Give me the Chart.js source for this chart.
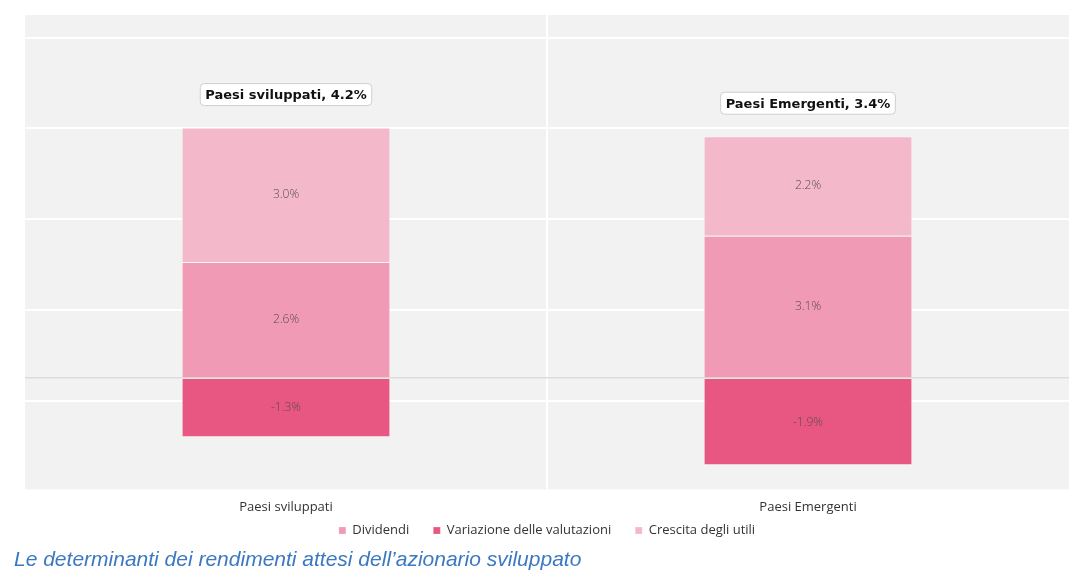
<!DOCTYPE html>
<html>
<head>
<meta charset="utf-8">
<script src="https://cdn.jsdelivr.net/npm/chart.js@4"></script>
<style>
  html, body { margin: 0; padding: 0; background: #ffffff; }
  #wrap { position: relative; width: 1081px; height: 581px; }
  #chartBox { position: absolute; left: 0; top: 0; width: 1081px; height: 581px; }
  #caption { position: absolute; z-index: 2; left: 14px; top: 547px; font-family: "Liberation Sans", Arial, sans-serif; font-style: italic; font-size: 21px; color: #3b78c2; white-space: nowrap; }
</style>
</head>
<body>
<div id="wrap">
  <div id="chartBox"><canvas id="c"></canvas></div>
  <div id="caption">Le determinanti dei rendimenti attesi dell’azionario sviluppato</div>
</div>
<script>
const categories = ['Paesi sviluppati', 'Paesi Emergenti'];
const seriesNames = ['Dividendi', 'Variazione delle valutazioni', 'Crescita degli utili'];
const dividendi = [2.56, 3.14];
const variazione = [-1.30, -1.92];
const crescita = [2.96, 2.19];
const gridTicks = [-0.5, 0, 1.5, 3.5, 5.5, 7.5];
const yMin = -2.45;
const yMax = 8;

const colors = ['#f09ab6', '#e85782', '#f3b9cb'];
const uiFont = '"Open Sans", Lato, sans-serif';

const bgPlugin = {
  id: 'plotBg',
  beforeDraw(chart) {
    const {ctx, chartArea: a} = chart;
    ctx.save();
    ctx.fillStyle = '#f2f2f2';
    ctx.fillRect(a.left, a.top, a.right - a.left, a.bottom - a.top);
    ctx.restore();
  }
};

const legendShift = {
  id: 'legendShift',
  afterLayout(chart) {
    const lg = chart.legend;
    if (lg) { lg.top -= 25; lg.bottom -= 25; }
  }
};

const labelPlugin = {
  id: 'barLabels',
  afterDatasetsDraw(chart) {
    const {ctx} = chart;
    ctx.save();
    ctx.font = '300 12px ' + uiFont;
    ctx.fillStyle = '#5a4a50';
    ctx.textAlign = 'center';
    ctx.textBaseline = 'middle';
    chart.data.datasets.forEach((ds, di) => {
      const meta = chart.getDatasetMeta(di);
      meta.data.forEach((bar, i) => {
        const yc = (bar.y + bar.base) / 2;
        ctx.fillText(ds.data[i].toFixed(1) + '%', bar.x, yc);
      });
    });
    ctx.font = 'bold 13px "DejaVu Sans", sans-serif';
    categories.forEach((cat, i) => {
      let total = 0, topY = Infinity, x = 0;
      chart.data.datasets.forEach((ds, di) => {
        total += ds.data[i];
        const bar = chart.getDatasetMeta(di).data[i];
        topY = Math.min(topY, bar.y, bar.base);
        x = bar.x;
      });
      const text = cat + ', ' + total.toFixed(1) + '%';
      const w = ctx.measureText(text).width + 10;
      const h = 22;
      const bx = x - w / 2, by = topY - 22 - h;
      ctx.beginPath();
      ctx.roundRect(bx, by, w, h, 4);
      ctx.fillStyle = '#ffffff';
      ctx.fill();
      ctx.strokeStyle = '#cfcfcf';
      ctx.lineWidth = 1;
      ctx.stroke();
      ctx.fillStyle = '#111111';
      ctx.fillText(text, x, by + h / 2 + 1);
    });
    ctx.restore();
  }
};

new Chart(document.getElementById('c'), {
  type: 'bar',
  data: {
    labels: categories,
    datasets: [
      { label: seriesNames[0], data: dividendi, backgroundColor: colors[0], borderColor: 'rgba(255,255,255,0.2)', borderWidth: 1 },
      { label: seriesNames[1], data: variazione, backgroundColor: colors[1], borderColor: 'rgba(255,255,255,0.2)', borderWidth: 1 },
      { label: seriesNames[2], data: crescita, backgroundColor: colors[2], borderColor: 'rgba(255,255,255,0.2)', borderWidth: 1 }
    ]
  },
  options: {
    responsive: true,
    maintainAspectRatio: false,
    animation: false,
    devicePixelRatio: 1,
    layout: { padding: { left: 25, right: 12, top: 15, bottom: 9 } },
    datasets: { bar: { categoryPercentage: 1.0, barPercentage: 0.4 } },
    plugins: {
      tooltip: { enabled: false },
      legend: {
        position: 'bottom',
        labels: {
          boxWidth: 7, boxHeight: 7, padding: 24,
          color: '#333333',
          font: { family: uiFont, size: 13 }
        }
      }
    },
    scales: {
      x: {
        stacked: true,
        grid: {
          color: (c) => c.index === 1 ? '#ffffff' : 'transparent',
          lineWidth: 2,
          drawTicks: false
        },
        border: { display: false },
        ticks: { color: '#333333', padding: 10, font: { family: uiFont, size: 13 } }
      },
      y: {
        stacked: true,
        min: yMin,
        max: yMax,
        afterBuildTicks: (scale) => { scale.ticks = gridTicks.map(v => ({ value: v })); },
        grid: {
          color: (c) => c.tick && c.tick.value === 0 ? '#dcdcdc' : '#ffffff',
          lineWidth: (c) => c.tick && c.tick.value === 0 ? 1.5 : 2,
          drawTicks: false
        },
        border: { display: false },
        ticks: { display: false }
      }
    }
  },
  plugins: [bgPlugin, legendShift, labelPlugin]
});
</script>
</body>
</html>
